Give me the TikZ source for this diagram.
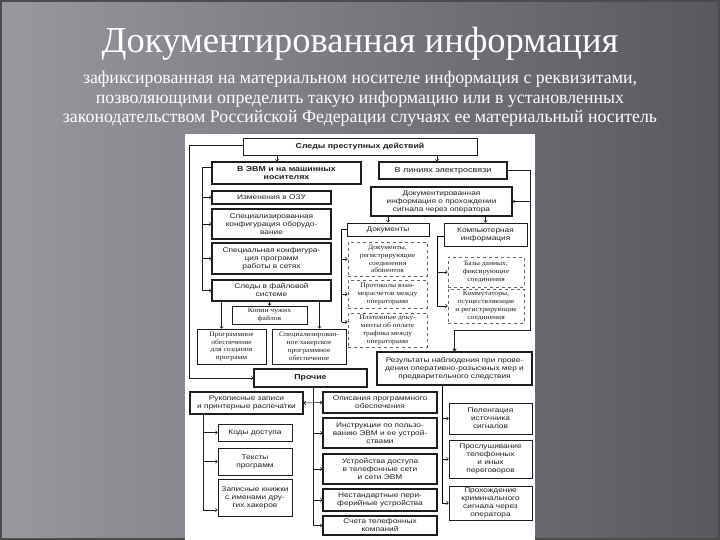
\documentclass[tikz,border=0pt]{standalone}
\usepackage{fontspec}
\usepackage{tikz}
\usetikzlibrary{arrows.meta}
\setmainfont{Liberation Serif}
\newfontfamily\boxfont[FakeStretch=1.22]{Liberation Sans}
\newfontfamily\serfont[FakeStretch=1.15]{Liberation Serif}
\definecolor{slidelight}{RGB}{152,152,158}
\definecolor{slidedark}{RGB}{88,88,94}
\definecolor{ink}{RGB}{30,30,30}
\tikzset{
  box/.style={draw=ink, line width=0.5pt, fill=white, align=center, inner sep=0pt,
    text=ink, font=\boxfont\fontsize{6.8}{8}\selectfont},
  heavy/.style={box, line width=1.1pt},
  serbox/.style={box, font=\serfont\fontsize{6.6}{7.8}\selectfont},
  dashbox/.style={serbox, dashed, draw=black!60},
  arr/.style={-{Straight Barb[length=2pt,width=3.5pt]}, line width=0.5pt, draw=ink},
  trunk/.style={line width=0.9pt, draw=ink}
}
\begin{document}
\begin{tikzpicture}[x=1pt,y=-1pt]
    \useasboundingbox (0,0) rectangle (720,540);
    \shade[left color=slidelight, right color=slidedark] (0,0) rectangle (720,540);
    \draw[black!70, line width=1.5pt] (1,1) rectangle (719,539);
    \node[text=white, font=\fontsize{36.5}{40}\selectfont] (title) at (360,44) {Документированная информация};
    \node[text=white, align=center, font=\fontsize{17.8}{19.5}\selectfont] (sub) at (360,99)
      {зафиксированная на материальном носителе информация с реквизитами,\\
       позволяющими определить такую информацию или в установленных\\
       законодательством Российской Федерации случаях ее материальный носитель};
    \fill[white] (185,134) rectangle (535,540);
    % top part
    \node[box, line width=0.8pt, minimum width=234pt, minimum height=17pt, font=\boxfont\bfseries\fontsize{7.2}{8}\selectfont] (traces) at (360,146.5) {Следы преступных действий};
    \node[heavy, minimum width=149pt, minimum height=22pt, font=\boxfont\bfseries\fontsize{7.2}{8}\selectfont] (evm) at (286.5,173) {В ЭВМ и на машинных\\носителях};
    \node[heavy, minimum width=128pt, minimum height=17pt, font=\boxfont\fontsize{7.4}{8}\selectfont] (link) at (443,170.5) {В линиях электросвязи};
    % computer column
    \node[heavy, minimum width=119pt, minimum height=13pt] (ozu) at (271.5,197.5) {Изменения в ОЗУ};
    \node[heavy, minimum width=119pt, minimum height=30pt] (conf) at (271.5,224) {Специализированная\\конфигурация оборудо-\\вание};
    \node[heavy, minimum width=119pt, minimum height=31pt] (prog) at (271.5,258.5) {Специальная конфигура-\\ция программ\\работы в сетях};
    \node[heavy, minimum width=119pt, minimum height=21pt] (files) at (271.5,290.5) {Следы в файловой\\системе};
    \node[serbox, minimum width=75pt, minimum height=18pt] (copies) at (269.5,315) {Копии чужих\\файлов};
    \node[serbox, minimum width=69pt, minimum height=35pt] (softA) at (231.5,346.5) {Программное\\обеспечение\\для создания\\программ};
    \node[serbox, line width=0.8pt, minimum width=74pt, minimum height=35pt] (softB) at (309,346.5) {Специализирован-\\ное хакерское\\программное\\обеспечение};
    \node[heavy, minimum width=113pt, minimum height=18pt, font=\boxfont\bfseries\fontsize{7.2}{8}\selectfont] (other) at (310.5,378) {Прочие};
    % communication column
    \node[heavy, minimum width=141pt, minimum height=29pt] (docinfo) at (441.5,201.5) {Документированная\\информация о прохождении\\сигнала через оператора};
    \node[box, line width=0.8pt, minimum width=82pt, minimum height=13pt] (docs) at (388,229.5) {Документы};
    \node[box, minimum width=83pt, minimum height=23pt] (compinfo) at (485.5,234.5) {Компьютерная\\информация};
    \node[dashbox, minimum width=79pt, minimum height=34pt] (docA) at (387.5,259) {Документы,\\регистрирующие\\соединения\\абонентов};
    \node[dashbox, minimum width=79pt, minimum height=28pt] (docB) at (387.5,294) {Протоколы взаи-\\морасчетов между\\операторами};
    \node[dashbox, minimum width=79pt, minimum height=34pt] (docC) at (387.5,330) {Платежные доку-\\менты об оплате\\трафика между\\операторами};
    \node[dashbox, minimum width=76pt, minimum height=30pt] (compA) at (486,272) {Базы данных,\\фиксирующие\\соединения};
    \node[dashbox, minimum width=76pt, minimum height=34pt] (compB) at (486,306) {Коммутаторы,\\осуществляющие\\и регистрирующие\\соединения};
    \node[heavy, minimum width=155pt, minimum height=33pt] (results) at (454.5,368.5) {Результаты наблюдения при прове-\\дении оперативно-розыскных мер и\\предварительного следствия};
    \node[box, minimum width=83pt, minimum height=31pt] (bearing) at (490.5,418.5) {Пеленгация\\источника\\сигналов};
    \node[box, minimum width=83pt, minimum height=38pt] (tapping) at (490.5,459) {Прослушивание\\телефонных\\и иных\\переговоров};
    \node[box, minimum width=83pt, minimum height=34pt] (passage) at (490.5,503) {Прохождение\\криминального\\сигнала через\\оператора};
    % other
    \node[heavy, minimum width=113pt, minimum height=22pt] (notes) at (246.5,403) {Рукописные записи\\и принтерные распечатки};
    \node[box, minimum width=74pt, minimum height=17pt] (codes) at (255,432.5) {Коды доступа};
    \node[box, minimum width=74pt, minimum height=27pt] (texts) at (255,461.5) {Тексты\\программ};
    \node[box, minimum width=74pt, minimum height=37pt] (books) at (255,497.5) {Записные книжки\\с именами дру-\\гих хакеров};
    \node[heavy, minimum width=114pt, minimum height=21pt] (manuals) at (380,402.5) {Описания программного\\обеспечения};
    \node[heavy, minimum width=114pt, minimum height=30pt] (guides) at (380,433) {Инструкции по пользо-\\ванию ЭВМ и ее устрой-\\ствами};
    \node[heavy, minimum width=114pt, minimum height=30pt] (access) at (380,469) {Устройства доступа\\в телефонные сети\\и сети ЭВМ};
    \node[heavy, minimum width=114pt, minimum height=22pt] (periph) at (380,500) {Нестандартные пери-\\ферийные устройства};
    \node[heavy, minimum width=114pt, minimum height=19pt] (bills) at (380,525.5) {Счета телефонных\\компаний};
    \coordinate (bend) at (530,330);

    % connectors
    \draw[arr] ([xshift=-9.5pt]evm.north |- traces.south) -- ([xshift=-9.5pt]evm.north);
    \draw[arr] ([xshift=-6pt]link.north |- traces.south) -- ([xshift=-6pt]link.north);
    \draw[arr] ([yshift=1.5pt]traces.west) -- ++(-53,0) |- (other.west);
    \draw[trunk] ([yshift=6pt]evm.west) -- ++(-9,0) coordinate (evmL) -- (evmL |- files.west);
    \draw[arr] (evmL |- ozu.west) -- (ozu.west);
    \draw[arr] (evmL |- conf.west) -- (conf.west);
    \draw[arr] (evmL |- prog.west) -- (prog.west);
    \draw[arr] (evmL |- files.west) -- (files.west);
    \draw[arr] ([xshift=-2pt]files.south) -- ([xshift=-2pt]files.south |- copies.north);
    \draw[arr] ([xshift=-50pt]files.south) -- ([xshift=-50pt]files.south |- softA.north);
    \draw[arr] ([xshift=48pt]files.south) -- ([xshift=48pt]files.south |- softB.north);
    \draw[arr, trunk] (link.east) -| (bend) -| (results.north);
    \draw[arr] (docinfo.east -| bend) -- (docinfo.east);
    \draw[arr] (docinfo.south -| docs.north) -- (docs.north);
    \draw[arr] (docinfo.south -| compinfo.north) -- (compinfo.north);
    \draw (docs.west) -- ++(-5,0) coordinate (docsL) -- ([yshift=8pt]docsL |- docC.west);
    \draw[arr] (docsL |- docA.west) -- (docA.west);
    \draw[arr] (docsL |- docB.west) -- (docB.west);
    \draw[arr] ([yshift=8pt]docsL |- docC.west) -- ([yshift=8pt]docC.west);
    \draw ([yshift=-1.5pt]compinfo.west) -- ++(-7,0) coordinate (compL) -- (compL |- compB.west);
    \draw[arr] (compL |- compA.west) -- (compA.west);
    \draw[arr] (compL |- compB.west) -- (compB.west);
    \draw ([xshift=-12.5pt]results.south) coordinate (resB) -- (resB |- passage.west);
    \draw[arr] (resB |- bearing.west) -- (bearing.west);
    \draw[arr] (resB |- tapping.west) -- (tapping.west);
    \draw[arr] (resB |- passage.west) -- (passage.west);
    \draw[trunk] ([xshift=2.5pt]other.south) coordinate (othB) -- (othB |- bills.west);
    \draw[arr] (othB |- guides.west) -- (guides.west);
    \draw[arr] (othB |- access.west) -- (access.west);
    \draw[arr] (othB |- periph.west) -- (periph.west);
    \draw[arr] (othB |- bills.west) -- (bills.west);
    \draw[{Straight Barb[length=2pt,width=3.5pt]}-{Straight Barb[length=2pt,width=3.5pt]}, line width=0.5pt] (notes.east) -- (manuals.west);
    \draw[trunk] ([xshift=-43.5pt]notes.south) coordinate (notB) -- ([yshift=-12.5pt]notB |- books.west);
    \draw[arr] (notB |- codes.west) -- (codes.west);
    \draw[arr] (notB |- texts.west) -- (texts.west);
    \draw[arr] ([yshift=-12.5pt]notB |- books.west) -- ([yshift=-12.5pt]books.west);
\end{tikzpicture}
\end{document}
